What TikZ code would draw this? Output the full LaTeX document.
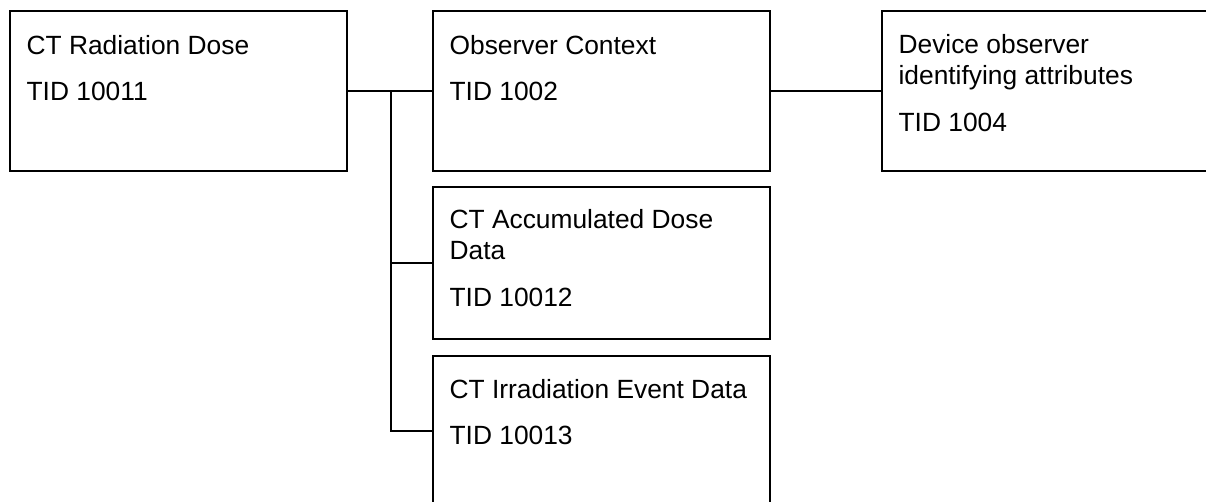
\documentclass[tikz,border=0pt]{standalone}
\usepackage{fontspec}
\setmainfont{Liberation Sans}
\usetikzlibrary{positioning}
\newcommand{\tidfont}{\fontsize{15}{17.6}\selectfont}
\tikzset{
  tidbox/.style={draw, rectangle, line width=0.9pt, minimum width=6.74cm, minimum height=3.2cm, inner sep=0pt},
  tidtext/.style={anchor=base west, align=left, inner sep=0pt, font=\tidfont},
  tidwire/.style={line width=0.8pt}
}

\begin{document}
\begin{tikzpicture}[x=0.02cm,y=-0.02cm]
    \useasboundingbox (0,0) rectangle (1206,501);
    \clip (0,0) rectangle (1206,501);

    \node[tidbox] (dose) at (178.5,91) {};
    \node[tidbox] (observer) at (601.5,91) {};
    \node[tidbox] (device) at (1050.5,91) {};
    \node[tidbox, minimum height=3.04cm] (accum) at (601.5,263) {};
    \node[tidbox, minimum height=3.0cm] (irrad) at (601.5,431) {};

    % base of the text nodes = baseline of the last line
    \path (dose.north west) ++(17,90) node[tidtext] (dosetext) {CT Radiation Dose\\[8.5pt]TID 10011};
    \path (observer.north west) ++(17,90) node[tidtext] (observertext) {Observer Context\\[8.5pt]TID 1002};
    \path (device.north west) ++(17,121) node[tidtext] (devicetext) {Device observer\\identifying attributes\\[9pt]TID 1004};
    \path (accum.north west) ++(17,120) node[tidtext] (accumtext) {CT Accumulated Dose\\Data\\[9pt]TID 10012};
    \path (irrad.north west) ++(17,89) node[tidtext] (irradtext) {CT Irradiation Event Data\\[8.5pt]TID 10013};

    \draw[tidwire] (dose.east) -- (observer.west);
    \draw[tidwire] (observer.east) -- (device.west);
    \coordinate (bus) at (391,91);
    \draw[tidwire] (bus) |- (accum.west);
    \draw[tidwire] (bus) |- (irrad.west);
\end{tikzpicture}
\end{document}
